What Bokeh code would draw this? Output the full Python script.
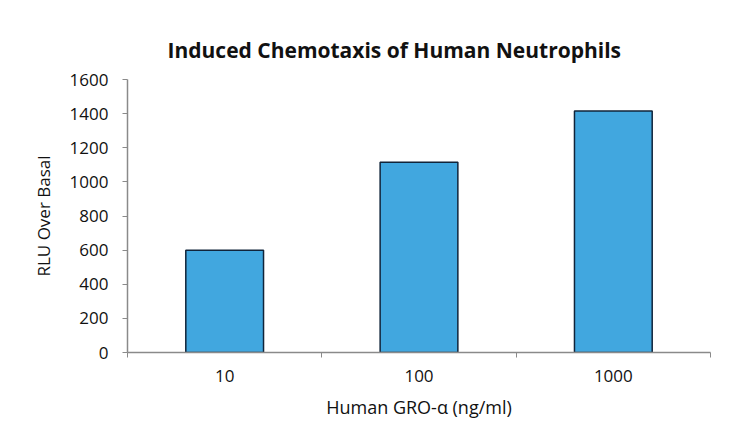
from bokeh.plotting import figure
from bokeh.models import Range1d, FixedTicker
from bokeh.embed import file_html
from bokeh.resources import INLINE

# GRO-alpha doses (ng/ml) and measured response
doses = ["10", "100", "1000"]
rlu = [600, 1115, 1415]
y_ticks = [0, 200, 400, 600, 800, 1000, 1200, 1400, 1600]

font = "Open Sans"
axis_grey = "#8a8a8a"
text_col = "#111111"

# bars sit in the middle of each category slot, ticks on the slot edges
x_pos = [i + 0.5 for i in range(len(doses))]
slot_edges = list(range(len(doses) + 1))

p = figure(width=750, height=435,
           x_range=Range1d(0, len(doses)),
           y_range=Range1d(y_ticks[0], y_ticks[-1]),
           title="Induced Chemotaxis of Human Neutrophils",
           output_backend="svg", toolbar_location=None,
           min_border_left=127, min_border_right=40,
           min_border_top=79, min_border_bottom=83)

p.vbar(x=x_pos, top=rlu, bottom=0, width=0.4,
       fill_color="#41a7df", line_color="#10243a", line_width=1.5)

p.title.text_font = font
p.title.text_font_size = "21px"
p.title.text_font_style = "bold"
p.title.text_color = text_col
p.title.align = "left"
p.title.offset = 40
p.title.standoff = 32

p.xgrid.visible = False
p.ygrid.visible = False
p.outline_line_color = None

# x axis
xa = p.xaxis[0]
xa.ticker = FixedTicker(ticks=x_pos, minor_ticks=slot_edges)
xa.major_label_overrides = {x: d for x, d in zip(x_pos, doses)}
xa.major_tick_in = 0
xa.major_tick_out = 0
xa.minor_tick_in = 0
xa.minor_tick_out = 5
xa.minor_tick_line_color = axis_grey
xa.axis_line_color = axis_grey
xa.axis_line_width = 1.5
xa.major_label_standoff = 12
xa.major_label_text_font = font
xa.major_label_text_font_size = "17px"
xa.major_label_text_color = text_col
xa.axis_label = "Human GRO-\u03b1 (ng/ml)"
xa.axis_label_standoff = 10
xa.axis_label_text_font = font
xa.axis_label_text_font_size = "18px"
xa.axis_label_text_font_style = "normal"
xa.axis_label_text_color = text_col

# y axis
ya = p.yaxis[0]
ya.ticker = FixedTicker(ticks=y_ticks)
ya.minor_tick_line_color = None
ya.major_tick_in = 0
ya.major_tick_out = 5
ya.major_tick_line_color = axis_grey
ya.axis_line_color = axis_grey
ya.axis_line_width = 1.5
ya.major_label_standoff = 14
ya.major_label_text_font = font
ya.major_label_text_font_size = "17px"
ya.major_label_text_color = text_col
ya.axis_label = "RLU Over Basal"
ya.axis_label_standoff = 12
ya.axis_label_text_font = font
ya.axis_label_text_font_size = "17px"
ya.axis_label_text_font_style = "normal"
ya.axis_label_text_color = text_col

open("out.html", "w").write(file_html(p, INLINE))
